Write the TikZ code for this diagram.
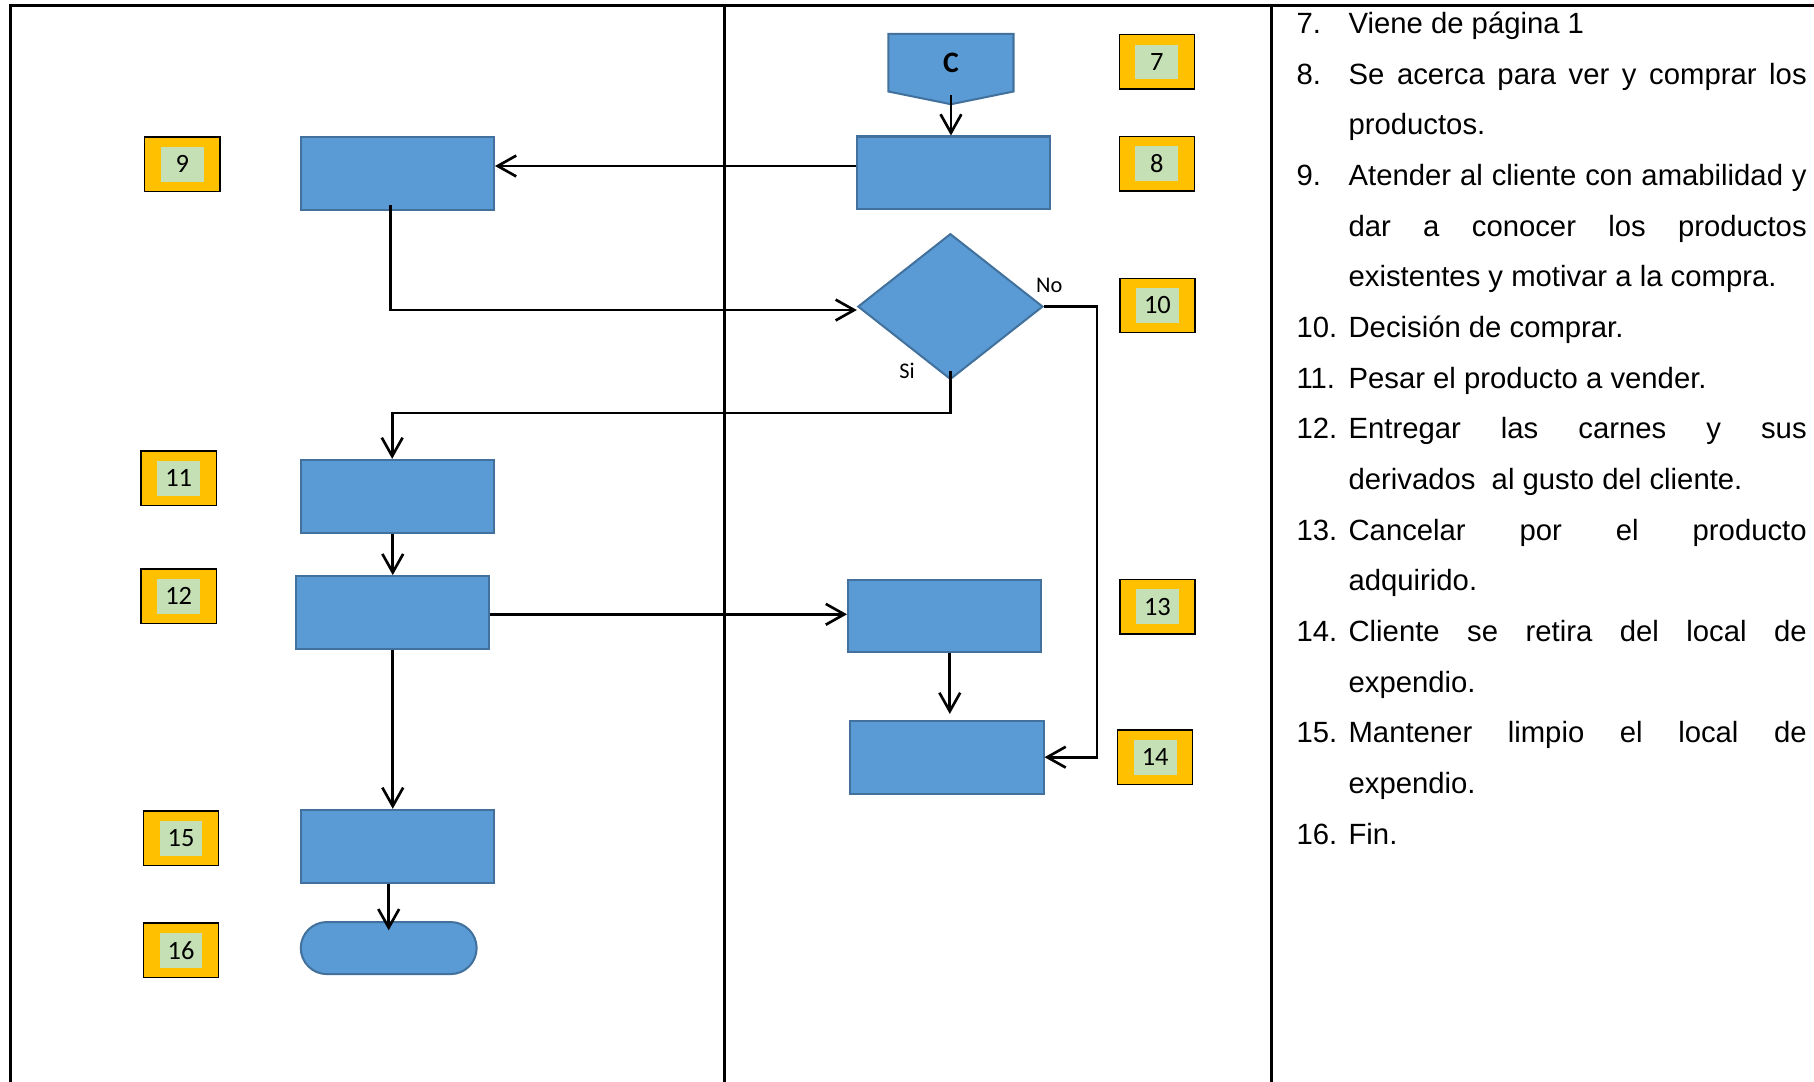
\documentclass[tikz,border=0pt]{standalone}
\usepackage{fontspec}
\setmainfont{Liberation Sans}
\newfontfamily\flowfont{Carlito}
\usetikzlibrary{arrows.meta, shapes.geometric, calc, backgrounds}

\definecolor{boxblue}{HTML}{5B9BD5}
\definecolor{boxedge}{HTML}{41719C}
\definecolor{tagyellow}{HTML}{FFC000}
\definecolor{taggreen}{HTML}{C5E0B4}

\begin{document}
\begin{tikzpicture}[x=0.1mm, y=-0.1mm,
  stepbox/.style={draw=boxedge, fill=boxblue, line width=0.5pt,
    minimum width=16.7mm, minimum height=6.3mm, inner sep=0},
  decision/.style={diamond, draw=boxedge, fill=boxblue, line width=0.5pt,
    minimum width=16.0mm, minimum height=12.6mm, inner sep=0},
  endbox/.style={draw=boxedge, fill=boxblue, line width=0.5pt,
    minimum width=15.2mm, minimum height=4.5mm, inner sep=0, rounded corners=2.25mm},
  tag/.style={draw=black, line width=0.35pt, fill=tagyellow,
    minimum width=6.5mm, minimum height=4.7mm, inner sep=0,
    font=\flowfont\fontsize{6.5}{7}\selectfont,
    path picture={\fill[taggreen]
      ([shift={(-1.85mm,-1.5mm)}]path picture bounding box.center) rectangle
      ([shift={(1.85mm,1.5mm)}]path picture bounding box.center);}},
  arr/.style={-{Straight Barb[length=1.6mm, width=1.8mm, line width=0.65pt]}, line width=0.65pt},
  rule/.style={line width=0.65pt},
  branch/.style={inner sep=0, font=\flowfont\fontsize{5.5}{6}\selectfont},
  listnum/.style={anchor=base west, inner sep=0, font=\fontsize{7.2}{8.6}\selectfont},
  listtxt/.style={anchor=base west, inner sep=0, font=\fontsize{7.2}{8.6}\selectfont},
]
\useasboundingbox (0,0) rectangle (1568,935);

% table rules
\draw[rule] (9,935) -- (9,5) -- (1568,5);
\draw[rule] (626,5) -- (626,935);
\draw[rule] (1099,5) -- (1099,935);

% off-page connector
\node[inner sep=0, minimum width=10.67mm, minimum height=4.84mm,
      font=\flowfont\bfseries\fontsize{7.3}{8}\selectfont] (cC) at (822,54.2) {C};
\begin{scope}[on background layer]
  \draw[draw=boxedge, fill=boxblue, line width=0.5pt]
    (cC.north west) -- (cC.north east) -- (cC.south east)
    -- ($(cC.south)+(0,11)$) -- (cC.south west) -- cycle;
\end{scope}

% process steps
\node[stepbox] (b8)  at (824.5,149.5) {};
\node[stepbox] (b9)  at (343.5,150) {};
\node[decision] (dec) at (821.5,265) {};
\node[stepbox] (b11) at (343.5,429) {};
\node[stepbox] (b12) at (339.5,529.5) {};
\node[stepbox] (b13) at (816.5,532.5) {};
\node[stepbox] (b14) at (818.5,654.5) {};
\node[stepbox] (b15) at (343.5,731.5) {};
\node[endbox]  (b16) at (336,819.5) {};

% branch labels
\node[branch] (lno) at (907,247) {No};
\node[branch] (lsi) at (784,321) {Si};

% step numbers
\node[tag] (t7)  at (1000,53.5) {7};
\node[tag] (t8)  at (1000,141.5) {8};
\node[tag] (t9)  at (157.5,142) {9};
\node[tag] (t10) at (1000.5,264) {10};
\node[tag] (t11) at (154.5,413.5) {11};
\node[tag] (t12) at (154.5,515.5) {12};
\node[tag] (t13) at (1000.5,524.5) {13};
\node[tag] (t14) at (998.5,654.5) {14};
\node[tag] (t15) at (156.5,724.5) {15};
\node[tag] (t16) at (156.5,821.5) {16};

% connectors
\draw[arr] ([yshift=-0.3mm]cC.south) -- (cC.south |- b8.north);
\draw[arr] ([yshift=0.6mm]b8.west) -- ([yshift=0.6mm]b8.west -| b9.east);
\draw[arr] ([xshift=-0.6mm,yshift=0.5mm]b9.south) |- ([yshift=-0.3mm]dec.west);
\draw[arr] ([yshift=0.8mm]dec.south) -- ++(0,36) -| ([xshift=-0.45mm]b11.north);
\draw[arr] (dec.east) -- ++(46,0) |- (b14.east);
\draw[arr] (b11.south -| b12.north) -- (b12.north);
\draw[arr] ([yshift=-0.15mm]b12.east) -- ([yshift=-0.15mm]b12.east -| b13.west);
\draw[arr] (b12.south) -- (b12.south |- b15.north);
\draw[arr] ([xshift=0.45mm]b13.south) -- ([xshift=0.45mm,yshift=0.5mm]b13.south |- b14.north);
\draw[arr] (b15.south -| b16.north) -- ([yshift=-0.8mm]b16.north);

% step descriptions
\node[listnum] (n7)  at (1120,29)    {7.};
\node[listtxt] (d7)  at (1165,29)    {Viene de página 1};
\node[listnum] (n8)  at (1120,72.8)  {8.};
\node[listtxt] (d8a) at (1165,72.8)  {\makebox[39.6mm][s]{Se acerca para ver y comprar los}};
\node[listtxt] (d8b) at (1165,116.6) {productos.};
\node[listnum] (n9)  at (1120,160.4) {9.};
\node[listtxt] (d9a) at (1165,160.4) {\makebox[39.6mm][s]{Atender al cliente con amabilidad y}};
\node[listtxt] (d9b) at (1165,204.2) {\makebox[39.6mm][s]{dar a conocer los productos}};
\node[listtxt] (d9c) at (1165,248)   {existentes y motivar a la compra.};
\node[listnum] (n10) at (1120,291.8) {10.};
\node[listtxt] (d10) at (1165,291.8) {Decisión de comprar.};
\node[listnum] (n11) at (1120,335.6) {11.};
\node[listtxt] (d11) at (1165,335.6) {Pesar el producto a vender.};
\node[listnum] (n12) at (1120,379.4) {12.};
\node[listtxt] (d12a) at (1165,379.4) {\makebox[39.6mm][s]{Entregar las carnes y sus}};
\node[listtxt] (d12b) at (1165,423.2) {derivados\ \ al gusto del cliente.};
\node[listnum] (n13) at (1120,467)   {13.};
\node[listtxt] (d13a) at (1165,467)  {\makebox[39.6mm][s]{Cancelar por el producto}};
\node[listtxt] (d13b) at (1165,510.8) {adquirido.};
\node[listnum] (n14) at (1120,554.6) {14.};
\node[listtxt] (d14a) at (1165,554.6) {\makebox[39.6mm][s]{Cliente se retira del local de}};
\node[listtxt] (d14b) at (1165,598.4) {expendio.};
\node[listnum] (n15) at (1120,642.2) {15.};
\node[listtxt] (d15a) at (1165,642.2) {\makebox[39.6mm][s]{Mantener limpio el local de}};
\node[listtxt] (d15b) at (1165,686)  {expendio.};
\node[listnum] (n16) at (1120,729.8) {16.};
\node[listtxt] (d16) at (1165,729.8) {Fin.};
\end{tikzpicture}
\end{document}
